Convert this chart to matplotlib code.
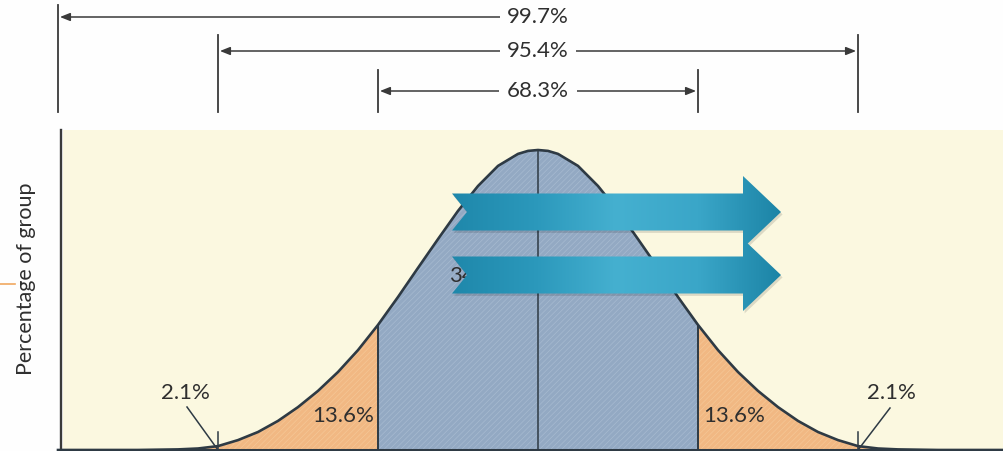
import numpy as np
import matplotlib
matplotlib.use("Agg")
import matplotlib.pyplot as plt
from matplotlib.patches import Polygon
from matplotlib.colors import LinearSegmentedColormap

# ---------------- data ----------------
# half of the bell curve, x in standard deviations,
# height relative to the peak
half_x = [0.0, 0.0625, 0.125, 0.25, 0.375, 0.5, 0.625, 0.75, 0.875, 1.0,
          1.125, 1.25, 1.375, 1.5, 1.625, 1.75, 1.875, 2.0, 2.125, 2.25, 2.5, 3.0]
half_y = [1.0, 0.997, 0.987, 0.947, 0.88, 0.797, 0.703, 0.607, 0.51, 0.417,
          0.333, 0.26, 0.197, 0.143, 0.097, 0.06, 0.033, 0.013, 0.005, 0.002, 0.0, 0.0]

band_edges = [-3, -2, -1, 0, 1, 2, 3]
band_labels = ["2.1%", "13.6%", "34.1%", "34.1%", "13.6%", "2.1%"]
coverage_sigma = [1, 2, 3]
coverage_labels = ["68.3%", "95.4%", "99.7%"]
y_label = "Percentage of group"

curve_x = np.concatenate([-np.array(half_x[::-1]), np.array(half_x[1:])])
curve_y = np.concatenate([np.array(half_y[::-1]), np.array(half_y[1:])])

# ---------------- style ----------------
FONT = ["Lato", "DejaVu Sans"]
TXT = "#2f2f2f"
LINE = "#2e3a44"
BLUE = "#93a9c3"
BLUE_H = "#a7bad0"
ORANGE = "#f1b883"
ORANGE_H = "#f5c796"
CREAM = "#fbf8e0"
plt.rcParams["hatch.linewidth"] = 0.5

W, H = 1004, 451
fig = plt.figure(figsize=(W / 100, H / 100), dpi=100)
ax = fig.add_axes([0, 0, 1, 1])
PX = 160.0   # pixels per sigma
X0 = 538.0   # pixel of mean
BASE = 450.0 # pixel of baseline
PK = 300.0   # peak height in px
ax.axis("off")
fig.patch.set_facecolor("#fefefe")

def py(p):  # pixel row -> data y
    return (BASE - p) / PK

def px(p):  # pixel column -> data x
    return (p - X0) / PX

# cream chart background
ax.axhspan(py(H), py(130), xmin=63 / W, xmax=1, color=CREAM, zorder=0, lw=0)

# fills
xa = np.array(curve_x)
ax.fill_between(xa, 0, curve_y, where=(np.abs(xa) <= 1), facecolor=BLUE, edgecolor=BLUE_H,
                hatch="//////", linewidth=0, zorder=1)
ax.fill_between(xa, 0, curve_y, where=(xa <= -1), facecolor=ORANGE, edgecolor=ORANGE_H,
                hatch="//////", linewidth=0, zorder=1)
ax.fill_between(xa, 0, curve_y, where=(xa >= 1), facecolor=ORANGE, edgecolor=ORANGE_H,
                hatch="//////", linewidth=0, zorder=1)

# curve outline
ax.plot(curve_x, curve_y, color=LINE, lw=1.9, zorder=3)

# vertical lines inside curve
height_at = dict(zip(np.round(xa, 4), curve_y))
for e in band_edges:
    if e == 0:
        ax.plot([0, 0], [0, height_at[0.0]], color=LINE, lw=1.1, zorder=3)
    elif abs(e) == 1:
        ax.plot([e, e], [0, height_at[float(e)]], color=LINE, lw=1.4, zorder=3)
    elif abs(e) == 2:
        ax.plot([e, e], [0, py(432)], color=LINE, lw=1.1, zorder=3)

# y axis and baseline
ax.plot([px(61), px(61)], [0, py(130)], color="#3a3a3a", lw=1.7, zorder=4)
ax.plot([px(61), (W - X0) / PX], [0, 0], color=LINE, lw=2.2, zorder=4)

# small orange mark at left edge
ax.plot([px(0), px(15)], [py(284), py(284)], color="#f0a860", lw=1.2, zorder=4)

ax.text(px(26), py(279), y_label, rotation=90, ha="center", va="center",
        fontsize=15.5, color=TXT, family=FONT, zorder=5)

# band labels
lab_pos = [(185, 393), (343, 416), (480, 276), (598, 276), (734, 416), (891, 393)]
for lab, (lx, ly) in zip(band_labels, lab_pos):
    ax.text(px(lx), py(ly), lab, ha="center", va="center", fontsize=16,
            color=TXT, family=FONT, zorder=5)
# leader lines to the 2-sigma points
ax.plot([px(187), -2], [py(407), 0], color=LINE, lw=1.1, zorder=5)
ax.plot([px(890), 2], [py(408), 0], color=LINE, lw=1.1, zorder=5)

# coverage brackets at the top
row_y = {1: py(91), 2: py(51), 3: py(17)}
tick_top = {1: py(70), 2: py(35), 3: py(5)}
for s, lab in zip(coverage_sigma, coverage_labels):
    yy = row_y[s]
    for sgn in (-1, 1):
        ax.plot([sgn * s, sgn * s], [py(112), tick_top[s]], color="#3a3a3a", lw=1.3, zorder=4)
        ax.annotate("", xy=(sgn * (s - 0.012), yy), xytext=(0, yy),
                    arrowprops=dict(arrowstyle="-|>,head_length=0.5,head_width=0.2",
                                    color="#3a3a3a", lw=1.1,
                                    mutation_scale=12, shrinkA=0, shrinkB=0), zorder=4)
    ax.text(0, yy, lab, ha="center", va="center", fontsize=16, color=TXT, family=FONT,
            zorder=6, bbox=dict(facecolor="#fefefe", edgecolor="none", pad=5.5))

# teal overlay arrows
cmap = LinearSegmentedColormap.from_list(
    "teal", ["#1f88ab", "#2b98bb", "#45b0d0", "#3aa6c8", "#1c84a6"])
grad = np.linspace(0, 1, 256).reshape(1, -1)
for cy in (212, 275):
    x_l, x_n, x_h, x_t = px(452), px(467), px(743), px(781)
    yb, yh = 18.5 / PK, 36 / PK
    c = py(cy)
    verts = [(x_l, c + yb), (x_h, c + yb), (x_h, c + yh), (x_t, c),
             (x_h, c - yh), (x_h, c - yb), (x_l, c - yb), (x_n, c)]
    poly = Polygon(verts, closed=True, facecolor="none", edgecolor="none", zorder=7)
    ax.add_patch(poly)
    shadow = Polygon([(vx + 0.01, vy - 0.008) for vx, vy in verts], closed=True,
                     facecolor="#000000", alpha=0.12, edgecolor="none", zorder=6.5)
    ax.add_patch(shadow)
    im = ax.imshow(grad, cmap=cmap, extent=[x_l, x_t, c - yh, c + yh],
                   aspect="auto", zorder=7, interpolation="bicubic")
    im.set_clip_path(poly)

ax.set_xlim(-X0 / PX, (W - X0) / PX)
ax.set_ylim(-(H - BASE) / PK, BASE / PK)
fig.savefig("out.png", dpi=100, facecolor=fig.get_facecolor())
